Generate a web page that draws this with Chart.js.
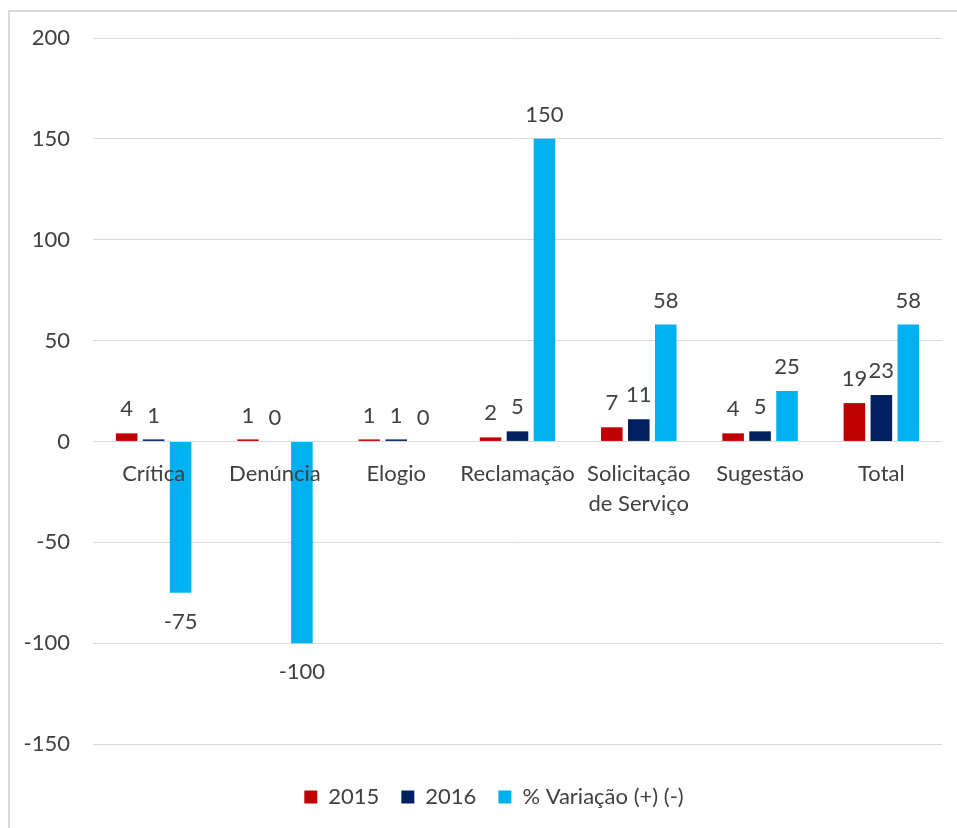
<!DOCTYPE html>
<html lang="pt-BR">
<head>
<meta charset="utf-8">
<title>Manifestações 2015 x 2016</title>
<script src="https://cdn.jsdelivr.net/npm/chart.js@4.4.1/dist/chart.umd.min.js"></script>
<style>
    html, body { margin: 0; padding: 0; background: #fff; overflow: hidden; }
    .chart-frame { position: absolute; left: 8px; top: 10px; width: 990px; height: 860px; border: 2px solid #d9d9d9; }
    .chart-box { position: absolute; left: 0; top: 0; width: 957px; height: 828px; }
</style>
</head>
<body>
<div class="chart-frame"></div>
<div class="chart-box"><canvas id="manifestacoesChart" width="957" height="828"></canvas></div>
<script>
// Categorias do eixo X
const categorias = ['Crítica', 'Denúncia', 'Elogio', 'Reclamação', ['Solicitação', 'de Serviço'], 'Sugestão', 'Total'];

// Séries
const valores2015 = [4, 1, 1, 2, 7, 4, 19];
const valores2016 = [1, 0, 1, 5, 11, 5, 23];
const variacao = [-75, -100, 0, 150, 58, 25, 58];

// Eixo Y
const yMin = -150;
const yMax = 200;
const yPasso = 50;

const corTexto = '#404040';
const corGrade = '#d9d9d9';

Chart.defaults.font.family = 'Lato';
Chart.defaults.font.size = 22;
Chart.defaults.color = corTexto;

// Rótulos de valor sobre/abaixo das barras
const rotulosPlugin = {
    id: 'rotulos',
    afterDatasetsDraw(chart) {
        const ctx = chart.ctx;
        ctx.save();
        ctx.font = '22px Lato';
        ctx.fillStyle = corTexto;
        ctx.textAlign = 'center';
        ctx.textBaseline = 'middle';
        chart.data.datasets.forEach((ds, i) => {
            chart.getDatasetMeta(i).data.forEach((bar, j) => {
                const v = ds.data[j];
                const y = v < 0 ? bar.y + 29 : bar.y - 24;
                ctx.fillText(String(v), bar.x, y);
            });
        });
        ctx.restore();
    }
};

// Legenda um pouco deslocada para a direita, como no original
const legendaPlugin = {
    id: 'legendaDesloc',
    afterLayout(chart) {
        chart.legend.left += 46;
    }
};

const dados = {
    labels: categorias,
    datasets: [
        { label: '2015', data: valores2015, backgroundColor: '#C00000' },
        { label: '2016', data: valores2016, backgroundColor: '#002060' },
        { label: '% Variação (+) (-)', data: variacao, backgroundColor: '#00B0F0' }
    ]
};

new Chart(document.getElementById('manifestacoesChart'), {
    type: 'bar',
    data: dados,
    plugins: [rotulosPlugin, legendaPlugin],
    options: {
        responsive: false,
        animation: false,
        categoryPercentage: 0.667,
        barPercentage: 0.8,
        layout: { padding: { left: 0, top: 38, right: 15, bottom: 10 } },
        plugins: {
            tooltip: { enabled: false },
            legend: {
                position: 'bottom',
                title: { display: true, text: '', font: { size: 10 }, padding: { top: 4, bottom: 4 } },
                labels: { boxWidth: 13, boxHeight: 13, padding: 22, color: corTexto }
            }
        },
        scales: {
            x: {
                position: { y: 0 },
                grid: { display: false, drawTicks: false },
                border: { display: false },
                ticks: { z: 1, padding: 18, maxRotation: 0, autoSkip: false, font: { lineHeight: 1.36 } }
            },
            y: {
                min: yMin,
                max: yMax,
                ticks: { stepSize: yPasso, padding: 23 },
                grid: { color: corGrade, drawTicks: false },
                border: { display: false },
                afterFit(scale) { scale.width = 93; }
            }
        }
    }
});
</script>
</body>
</html>
